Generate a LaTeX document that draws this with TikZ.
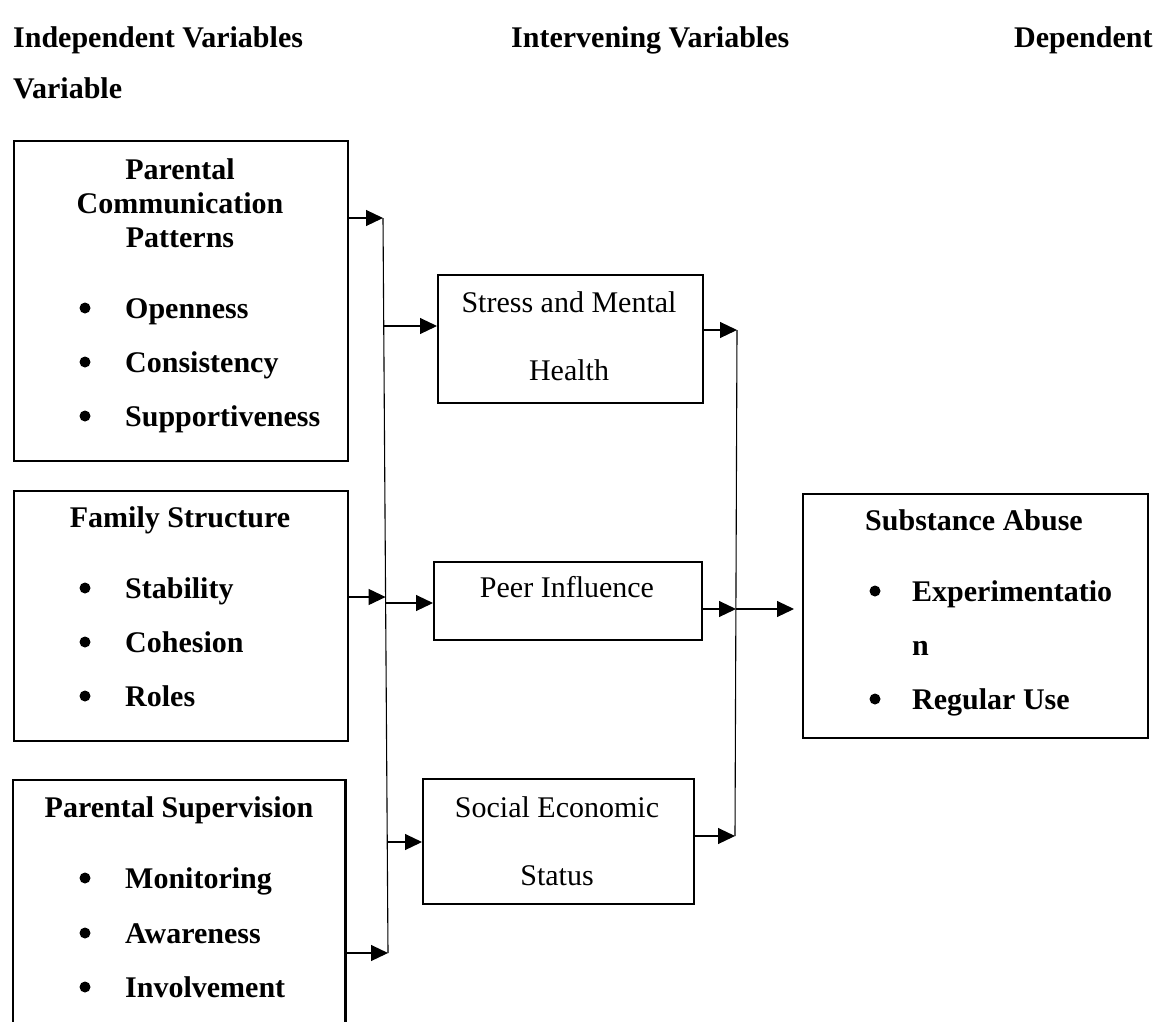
\documentclass[tikz,border=0pt]{standalone}
\usepackage{fontspec}
\setmainfont{Liberation Serif}
\usetikzlibrary{arrows.meta,calc}
\begin{document}
\begin{tikzpicture}[x=1pt,y=-1pt,
 box/.style={draw,line width=2.4pt,anchor=north west,inner sep=0pt},
 conn/.style={line width=1.1pt},
 arr/.style={conn,-{Triangle[length=17pt,width=16pt]}},
 bt/.style={font=\fontsize{30}{34}\bfseries, anchor=base, inner sep=0pt},
 bl/.style={font=\fontsize{30}{34}\bfseries, anchor=base west, inner sep=0pt},
 rt/.style={font=\fontsize{30}{34}\selectfont, anchor=base, inner sep=0pt},
 dot/.style={circle, fill, inner sep=0pt, minimum size=11pt, yshift=10pt}]
\useasboundingbox (0,0) rectangle (1154,1021);
\fill[white] (0,0) rectangle (1154,1021);

% headings
\node[bl] (h1) at (13,47) {Independent Variables};
\node[bl] (h2) at (511,47) {Intervening Variables};
\node[bl] (h3) at (1014,47) {Dependent};
\node[bl] (h4) at (13,98) {Variable};

% boxes
\node[box,minimum width=334pt,minimum height=320pt] (pc) at (13,140) {};
\node[box,minimum width=334pt,minimum height=250pt] (fs) at (13,490) {};
\node[anchor=north west,inner sep=0pt,minimum width=332pt,minimum height=260pt] (ps) at (13,780) {};
\draw[line width=2.4pt] (ps.south west) -- (ps.north west) -- (ps.north east) -- (ps.south east);
\node[box,minimum width=265pt,minimum height=128pt] (sm) at (437,274) {};
\node[box,minimum width=268pt,minimum height=78pt] (pi) at (433,561) {};
\node[box,minimum width=271pt,minimum height=125pt] (se) at (422,778) {};
\node[box,minimum width=345pt,minimum height=244pt] (sa) at (802,493) {};

% box 1 text
\node[bt] (pc1) at (180,179) {Parental};
\node[bt] (pc2) at (180,213) {Communication};
\node[bt] (pc3) at (180,247) {Patterns};
\node[dot] (pcd1) at (85,318) {};
\node[dot] (pcd2) at (85,372) {};
\node[dot] (pcd3) at (85,426) {};
\node[bl] (pci1) at (125,318) {Openness};
\node[bl] (pci2) at (125,372) {Consistency};
\node[bl] (pci3) at (125,426) {Supportiveness};

% box 2 text
\node[bt] (fs1) at (180,527) {Family Structure};
\node[dot] (fsd1) at (85,598) {};
\node[dot] (fsd2) at (85,652) {};
\node[dot] (fsd3) at (85,706) {};
\node[bl] (fsi1) at (125,598) {Stability};
\node[bl] (fsi2) at (125,652) {Cohesion};
\node[bl] (fsi3) at (125,706) {Roles};

% box 3 text
\node[bt] (ps1) at (179,817) {Parental Supervision};
\node[dot] (psd1) at (85,888) {};
\node[dot] (psd2) at (85,943) {};
\node[dot] (psd3) at (85,997) {};
\node[bl] (psi1) at (125,888) {Monitoring};
\node[bl] (psi2) at (125,943) {Awareness};
\node[bl] (psi3) at (125,997) {Involvement};

% intervening text
\node[rt] (sm1) at (569,312) {Stress and Mental};
\node[rt] (sm2) at (569,380) {Health};
\node[rt] (pi1) at (567,597) {Peer Influence};
\node[rt] (se1) at (557,817) {Social Economic};
\node[rt] (se2) at (557,885) {Status};

% dependent text
\node[bt] (sa1) at (974,530) {Substance Abuse};
\node[dot] (sad1) at (875,601) {};
\node[dot] (sad2) at (875,709) {};
\node[bl] (sai1) at (912,601) {Experimentatio};
\node[bl] (sai2) at (912,655) {n};
\node[bl] (sai3) at (912,709) {Regular Use};

% left collector line
\coordinate (Lt) at (383,218);
\coordinate (Lb) at (388,953);
\coordinate (L1) at (383.7,326);
\coordinate (L2a) at (385.6,597);
\coordinate (L2b) at (385.6,603);
\coordinate (L3) at (387.2,842);
\draw[conn] (Lt) -- (Lb);
\draw[arr] (pc.east |- Lt) -- (Lt);
\draw[arr] (fs.east |- L2a) -- (L2a);
\draw[arr] (ps.east |- Lb) -- (Lb);
\draw[arr] (L1) -- (sm.west |- L1);
\draw[arr] (L2b) -- (pi.west |- L2b);
\draw[arr] (L3) -- (se.west |- L3);

% right collector line
\coordinate (Rt) at (737,330);
\coordinate (Rm) at (736,609);
\coordinate (Rb) at (735,836);
\draw[conn] (Rt) -- (Rb);
\draw[arr] (sm.east |- Rt) -- (Rt);
\draw[arr] (pi.east |- Rm) -- (Rm);
\draw[arr] (se.east |- Rb) -- (Rb);
\draw[arr,shorten >=8pt] (Rm) -- (sa.west |- Rm);
\end{tikzpicture}
\end{document}
